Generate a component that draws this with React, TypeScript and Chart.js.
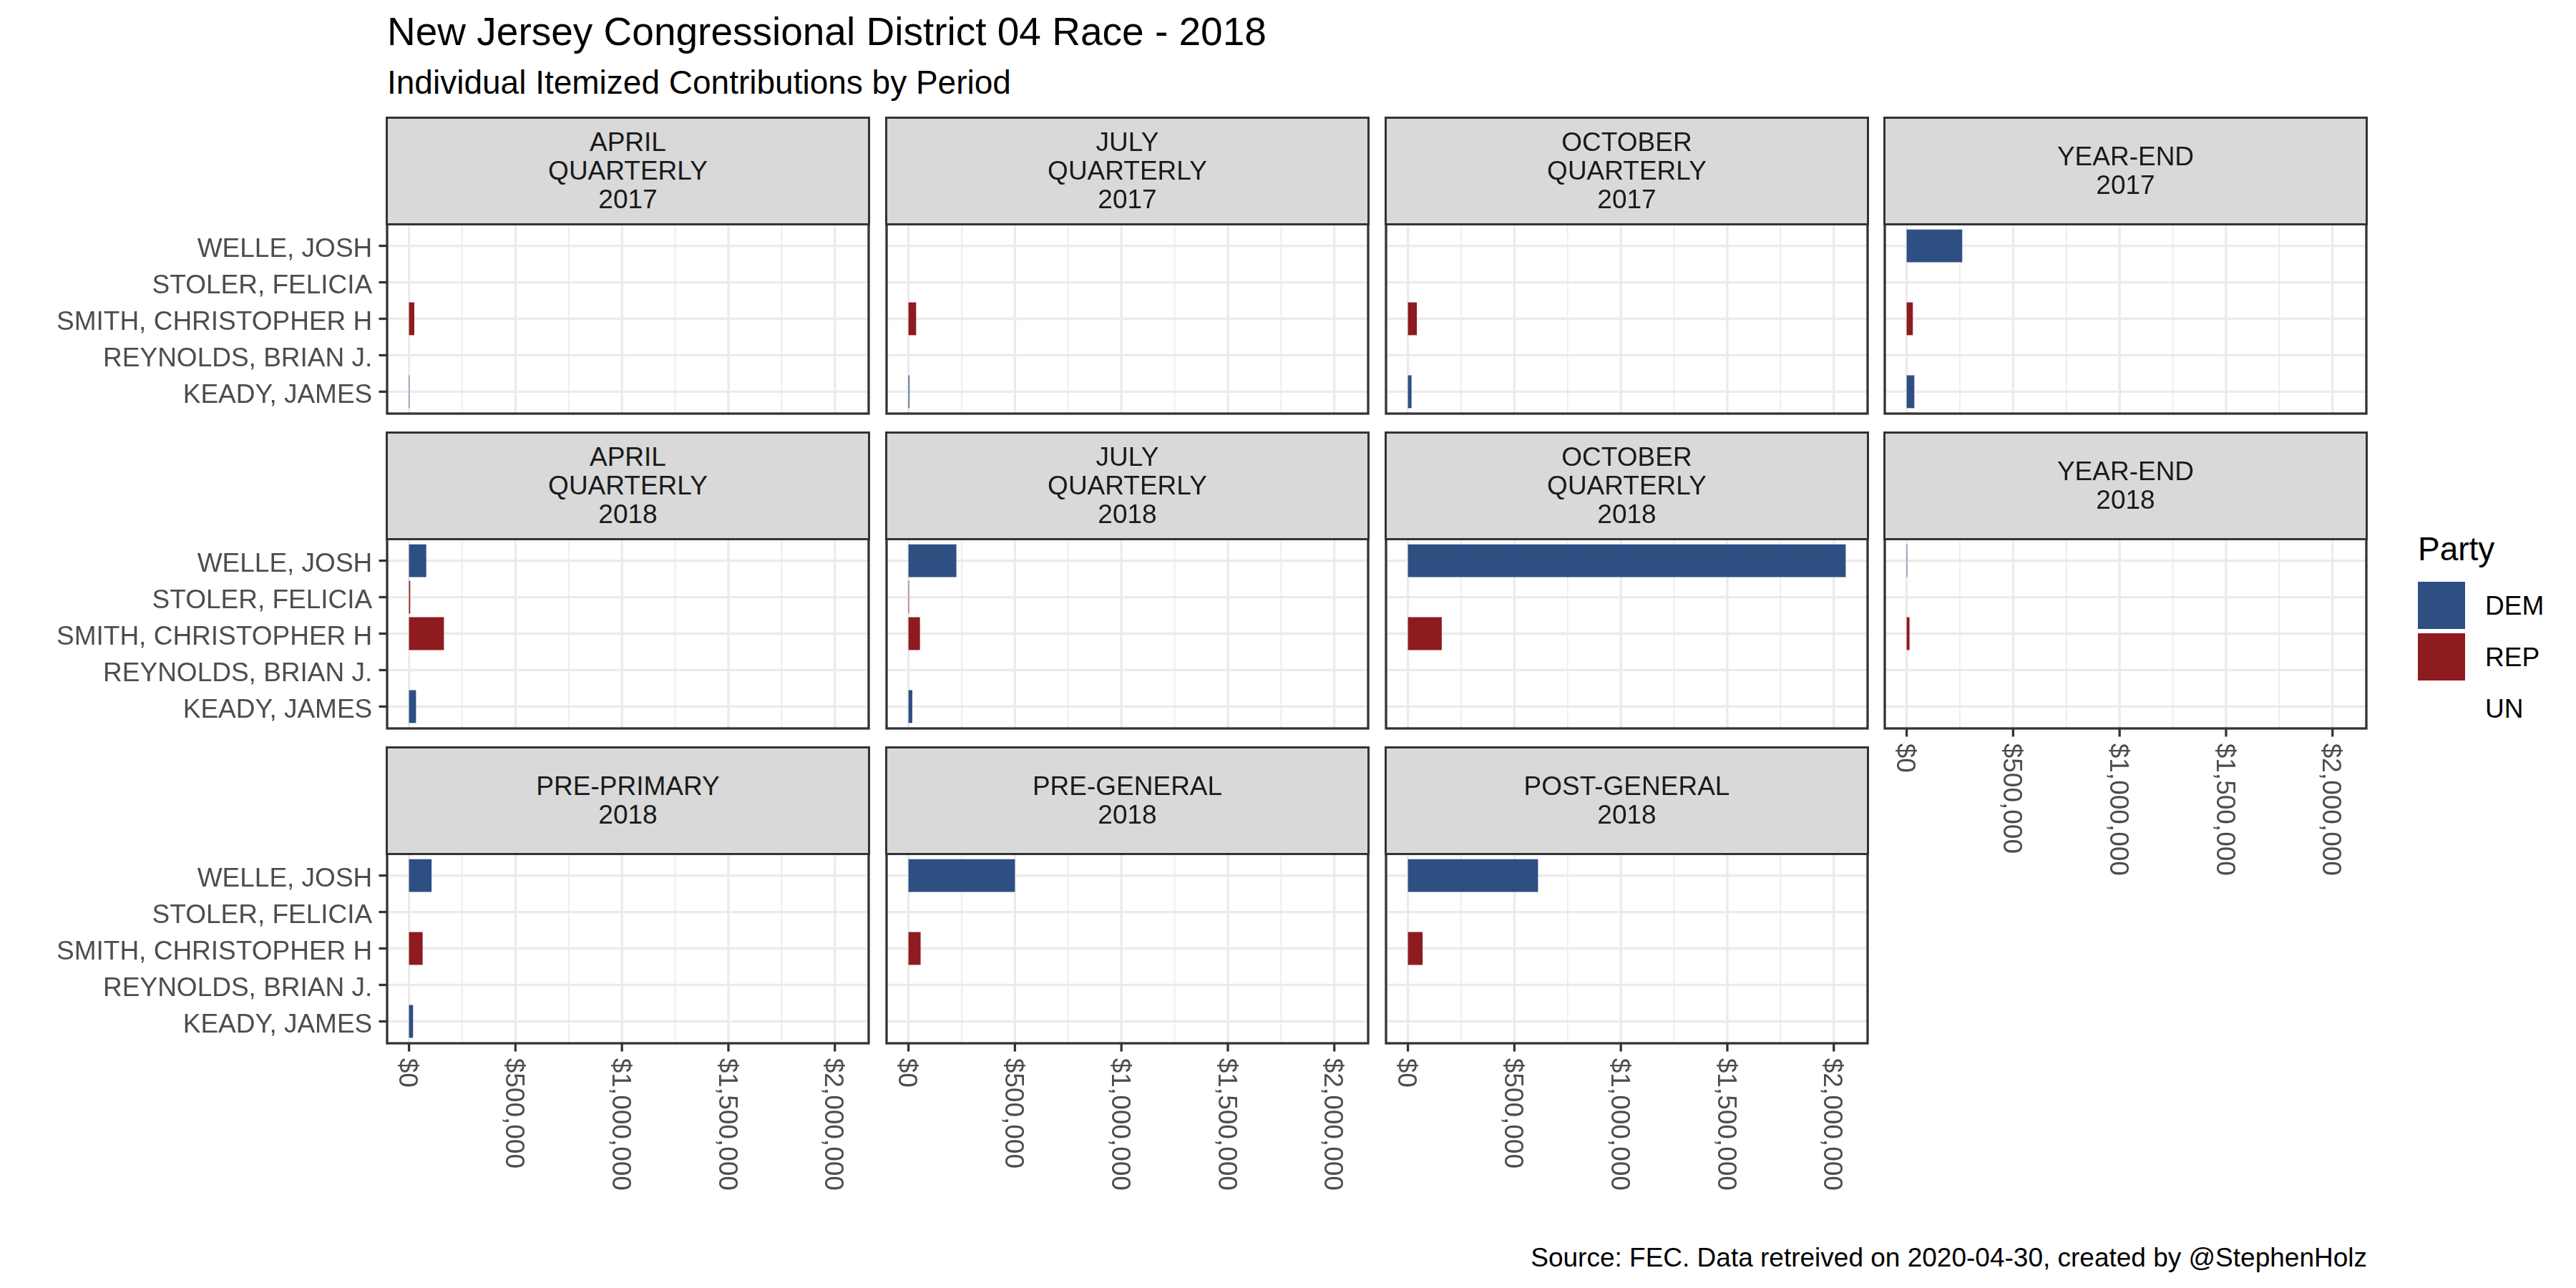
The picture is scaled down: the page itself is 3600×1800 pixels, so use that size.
import React, { useEffect, useRef } from "react";
import { Chart, registerables } from "chart.js";

Chart.register(...registerables);

// ---------------- data ----------------
// candidates listed bottom -> top (as on the y axis)
const candidates = ["KEADY, JAMES", "REYNOLDS, BRIAN J.", "SMITH, CHRISTOPHER H", "STOLER, FELICIA", "WELLE, JOSH"];
const candidateParty = ["DEM", "UN", "REP", "REP", "DEM"];

const periods = [
  "APRIL\nQUARTERLY\n2017",
  "JULY\nQUARTERLY\n2017",
  "OCTOBER\nQUARTERLY\n2017",
  "YEAR-END\n2017",
  "APRIL\nQUARTERLY\n2018",
  "JULY\nQUARTERLY\n2018",
  "OCTOBER\nQUARTERLY\n2018",
  "YEAR-END\n2018",
  "PRE-PRIMARY\n2018",
  "PRE-GENERAL\n2018",
  "POST-GENERAL\n2018",
];

// contributions per period (same order as periods)
const keadyJames = [2500, 4500, 17000, 36000, 33000, 18000, 0, 0, 19000, 0, 0];
const reynoldsBrian = [0, 0, 0, 0, 0, 0, 0, 0, 0, 0, 0];
const smithChristopher = [25000, 36000, 42000, 29000, 164000, 54000, 159000, 13500, 64000, 57000, 69000];
const stolerFelicia = [0, 0, 0, 0, 5600, 2500, 0, 0, 0, 0, 0];
const welleJosh = [0, 0, 0, 261000, 81000, 225000, 2056000, 2500, 106000, 500000, 611000];

const partyNames = ["DEM", "REP", "UN"];
const partyColors = ["#2D4F82", "#8E1B1E", "#FFFFFF"];

const xTickValues = [0, 500000, 1000000, 1500000, 2000000];
const xTickLabels = ["$0", "$500,000", "$1,000,000", "$1,500,000", "$2,000,000"];
const xMinorValues = [250000, 750000, 1250000, 1750000];

const titleText = "New Jersey Congressional District 04 Race - 2018";
const subtitleText = "Individual Itemized Contributions by Period";
const captionText = "Source: FEC. Data retreived on 2020-04-30, created by @StephenHolz";
const legendTitle = "Party";

// ---------------- layout ----------------
const FONT = "'Liberation Sans', Arial, Helvetica, sans-serif";
const COL_LEFT = [541, 1239, 1937, 2634];
const ROW_PLOT_TOP = [313, 753, 1193];
const PLOT_W = 673;
const PLOT_H = 265;
const STRIP_H = 150;
const PAD = 6;
const BOTTOM_PAD = 260;
const LINE_W = 3.3;
const TICK_LEN = 11.5;
const TICK_GAP = 9.2;
const AXIS_FONT = 37;

const series = [keadyJames, reynoldsBrian, smithChristopher, stolerFelicia, welleJosh];
const dataMax = Math.max(...series.flat());
const X_MIN = -0.05 * dataMax;
const X_MAX = 1.05 * dataMax;

const panelPlugin = {
  id: "panelDeco",
  beforeDatasetsDraw(chart: any, _args: any, opts: any) {
    const { ctx, chartArea: a, scales } = chart;
    const x = scales.x;
    const y = scales.y;
    ctx.save();
    ctx.fillStyle = "#FFFFFF";
    ctx.fillRect(a.left, a.top, a.width, a.height);
    ctx.strokeStyle = "#EBEBEB";
    ctx.lineWidth = LINE_W / 2;
    for (const v of xMinorValues) {
      const px = x.getPixelForValue(v);
      ctx.beginPath();
      ctx.moveTo(px, a.top);
      ctx.lineTo(px, a.bottom);
      ctx.stroke();
    }
    ctx.lineWidth = LINE_W;
    for (const v of xTickValues) {
      const px = x.getPixelForValue(v);
      ctx.beginPath();
      ctx.moveTo(px, a.top);
      ctx.lineTo(px, a.bottom);
      ctx.stroke();
    }
    for (let i = 0; i < candidates.length; i++) {
      const py = y.getPixelForValue(i + 1);
      ctx.beginPath();
      ctx.moveTo(a.left, py);
      ctx.lineTo(a.right, py);
      ctx.stroke();
    }
    ctx.restore();
  },
  afterDatasetsDraw(chart: any, _args: any, opts: any) {
    const { ctx, chartArea: a, scales } = chart;
    const x = scales.x;
    const y = scales.y;
    ctx.save();
    ctx.strokeStyle = "#333333";
    ctx.lineWidth = LINE_W;
    ctx.strokeRect(a.left, a.top, a.width, a.height);
    ctx.font = `${AXIS_FONT}px ${FONT}`;
    ctx.fillStyle = "#4D4D4D";
    if (opts.showY) {
      ctx.textAlign = "right";
      ctx.textBaseline = "alphabetic";
      for (let i = 0; i < candidates.length; i++) {
        const py = y.getPixelForValue(i + 1);
        ctx.beginPath();
        ctx.moveTo(a.left - TICK_LEN, py);
        ctx.lineTo(a.left, py);
        ctx.stroke();
        ctx.fillText(candidates[i], a.left - TICK_LEN - TICK_GAP, py + 0.358 * AXIS_FONT + 2);
      }
    }
    if (opts.showX) {
      for (let i = 0; i < xTickValues.length; i++) {
        const px = x.getPixelForValue(xTickValues[i]);
        ctx.beginPath();
        ctx.moveTo(px, a.bottom);
        ctx.lineTo(px, a.bottom + TICK_LEN);
        ctx.stroke();
        ctx.save();
        ctx.translate(px, a.bottom + TICK_LEN + TICK_GAP);
        ctx.rotate(Math.PI / 2);
        ctx.textAlign = "left";
        ctx.textBaseline = "alphabetic";
        ctx.fillText(xTickLabels[i], 0, 0.358 * AXIS_FONT);
        ctx.restore();
      }
    }
    ctx.restore();
  },
};

function Panel({ p }: { p: number }) {
  const ref = useRef<HTMLCanvasElement>(null);
  const row = Math.floor(p / 4);
  const col = p % 4;
  const plotLeft = COL_LEFT[col];
  const plotTop = ROW_PLOT_TOP[row];
  const showY = col === 0;
  const showX = row === 2 || (row === 1 && col === 3);
  const PL = showY ? plotLeft : PAD;
  const PB = showX ? BOTTOM_PAD : PAD;
  const w = PL + PLOT_W + PAD;
  const h = PAD + PLOT_H + PB;

  useEffect(() => {
    const canvas = ref.current!;
    const chart = new Chart(canvas, {
      type: "bar",
      data: {
        datasets: [
          {
            data: candidates.map((_, i) => ({ x: series[i][p], y: i + 1 })),
            backgroundColor: candidates.map((_, i) => partyColors[partyNames.indexOf(candidateParty[i])]),
            borderWidth: 0,
            barPercentage: 0.9,
            categoryPercentage: 1,
          },
        ],
      },
      options: {
        indexAxis: "y",
        animation: false,
        responsive: false,
        maintainAspectRatio: false,
        events: [],
        layout: { padding: { left: PL, right: PAD, top: PAD, bottom: PB } },
        plugins: {
          legend: { display: false },
          tooltip: { enabled: false },
          title: { display: false },
          panelDeco: { showX, showY },
        } as any,
        scales: {
          x: { type: "linear", min: X_MIN, max: X_MAX, display: false, offset: false },
          y: {
            type: "linear",
            min: 0.4,
            max: 5.6,
            display: false,
            offset: false,
            grid: { offset: false },
            afterBuildTicks: (scale: any) => {
              scale.ticks = candidates.map((_, i) => ({ value: i + 1 }));
            },
          },
        },
      } as any,
      plugins: [panelPlugin as any],
    });
    return () => chart.destroy();
  }, []);

  return (
    <canvas
      ref={ref}
      width={w}
      height={h}
      style={{ position: "absolute", left: plotLeft - PL, top: plotTop - PAD, width: w, height: h, display: "block" }}
    />
  );
}

function Strip({ p }: { p: number }) {
  const row = Math.floor(p / 4);
  const col = p % 4;
  return (
    <div
      style={{
        position: "absolute",
        left: COL_LEFT[col] - LINE_W / 2,
        top: ROW_PLOT_TOP[row] - STRIP_H,
        width: PLOT_W + LINE_W,
        height: STRIP_H + LINE_W / 2,
        boxSizing: "border-box",
        border: `${LINE_W}px solid #333333`,
        background: "#D9D9D9",
        display: "flex",
        alignItems: "center",
        justifyContent: "center",
        textAlign: "center",
        whiteSpace: "pre-line",
        fontFamily: FONT,
        fontSize: 37,
        lineHeight: "40px",
        color: "#1A1A1A",
      }}
    >
      {periods[p]}
    </div>
  );
}

export default function App() {
  const legendKeyTop = [813, 885, 957];
  return (
    <div
      style={{
        position: "absolute",
        left: 0,
        top: 0,
        width: 3600,
        height: 1800,
        background: "#FFFFFF",
        overflow: "hidden",
        fontFamily: FONT,
      }}
    >
      <div style={{ position: "absolute", left: 541, top: 16.5, fontSize: 55, lineHeight: "55px", color: "#000", whiteSpace: "nowrap" }}>
        {titleText}
      </div>
      <div style={{ position: "absolute", left: 541, top: 92, fontSize: 46, lineHeight: "46px", color: "#000", whiteSpace: "nowrap" }}>
        {subtitleText}
      </div>
      {periods.map((_, p) => (
        <Panel key={"c" + p} p={p} />
      ))}
      {periods.map((_, p) => (
        <Strip key={"s" + p} p={p} />
      ))}
      <div style={{ position: "absolute", left: 3379, top: 744, fontSize: 46, lineHeight: "46px", color: "#000", whiteSpace: "nowrap" }}>
        {legendTitle}
      </div>
      {partyNames.map((name, i) => (
        <React.Fragment key={name}>
          <div
            style={{
              position: "absolute",
              left: 3379,
              top: legendKeyTop[i],
              width: 66,
              height: 66,
              background: partyColors[i],
            }}
          />
          <div
            style={{
              position: "absolute",
              left: 3473,
              top: legendKeyTop[i],
              height: 66,
              display: "flex",
              alignItems: "center",
              fontSize: 37,
              lineHeight: "37px",
              color: "#000",
              whiteSpace: "nowrap",
            }}
          >
            {name}
          </div>
        </React.Fragment>
      ))}
      <div
        style={{
          position: "absolute",
          right: 3600 - 3308,
          top: 1739,
          fontSize: 37,
          lineHeight: "37px",
          color: "#000",
          whiteSpace: "nowrap",
          textAlign: "right",
        }}
      >
        {captionText}
      </div>
    </div>
  );
}
